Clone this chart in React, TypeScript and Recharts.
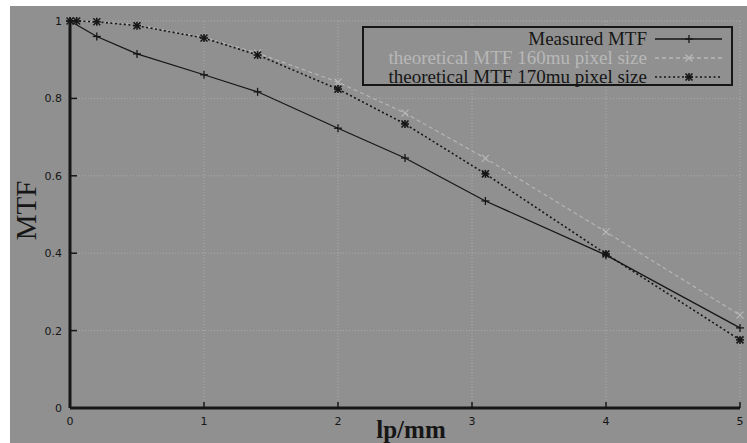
import { LineChart, Line, XAxis, YAxis, CartesianGrid, Legend, Label } from "recharts";

const xValues = [0, 0.05, 0.2, 0.5, 1, 1.4, 2, 2.5, 3.1, 4, 5];
const measured = [1, null, 0.96, 0.915, 0.861, 0.817, 0.723, 0.646, 0.535, 0.395, 0.207];
const theo160 = [1, 1, 0.999, 0.99, 0.958, 0.917, 0.842, 0.762, 0.645, 0.455, 0.24];
const theo170 = [1, 1, 0.998, 0.988, 0.956, 0.912, 0.824, 0.734, 0.605, 0.398, 0.176];

const xTicks = [0, 1, 2, 3, 4, 5];
const yTicks = [0, 0.2, 0.4, 0.6, 0.8, 1];

const BG = "#909090";
const INK = "#161616";
const PALE = "#b8b8b8";

const data = xValues.map((x, i) => ({
    x,
    measured: measured[i],
    theo160: theo160[i],
    theo170: theo170[i],
}));

// marker glyphs, gnuplot style
function Plus({ cx, cy, color, w = 1.3 }: any) {
    if (cx == null || cy == null) return null;
    return (
        <g stroke={color} strokeWidth={w}>
            <line x1={cx - 4} y1={cy} x2={cx + 4} y2={cy} />
            <line x1={cx} y1={cy - 4} x2={cx} y2={cy + 4} />
        </g>
    );
}

function Cross({ cx, cy, color, w = 1.2 }: any) {
    if (cx == null || cy == null) return null;
    return (
        <g stroke={color} strokeWidth={w}>
            <line x1={cx - 3.5} y1={cy - 3.5} x2={cx + 3.5} y2={cy + 3.5} />
            <line x1={cx - 3.5} y1={cy + 3.5} x2={cx + 3.5} y2={cy - 3.5} />
        </g>
    );
}

function Star(props: any) {
    return (
        <g>
            <Plus {...props} w={1.6} />
            <Cross {...props} w={1.6} />
        </g>
    );
}

const markers: Record<string, any> = { measured: Plus, theo160: Cross, theo170: Star };

function BottomTick({ x, y, payload }: any) {
    return (
        <g>
            <line x1={x} y1={y} x2={x} y2={y - 6} stroke={INK} strokeWidth={1.5} />
            <text x={x} y={y + 17} textAnchor="middle" fontSize={11} fill={INK} fontFamily="DejaVu Sans">
                {payload.value}
            </text>
        </g>
    );
}

function TopTick({ x, y }: any) {
    return <line x1={x} y1={y} x2={x} y2={y + 6} stroke={INK} strokeWidth={1.5} />;
}

function LeftTick({ x, y, payload }: any) {
    return (
        <g>
            <line x1={x} y1={y} x2={x + 7} y2={y} stroke={INK} strokeWidth={1.5} />
            <text x={x - 8} y={y + 4} textAnchor="end" fontSize={11} fill={INK} fontFamily="DejaVu Sans">
                {payload.value}
            </text>
        </g>
    );
}

function RightTick({ x, y }: any) {
    return <line x1={x} y1={y} x2={x - 7} y2={y} stroke={INK} strokeWidth={1.5} />;
}

function LegendBox({ payload }: any) {
    return (
        <div
            style={{
                boxSizing: "border-box",
                width: 371,
                height: 60,
                border: `2px solid ${INK}`,
                background: BG,
                paddingRight: 9,
                paddingTop: 1,
                fontFamily: "'Liberation Serif', serif",
                fontSize: 19,
            }}
        >
            {(payload || []).map((entry: any) => {
                const Marker = markers[entry.dataKey];
                const dash = entry.payload?.strokeDasharray;
                return (
                    <div
                        key={entry.dataKey}
                        style={{ display: "flex", justifyContent: "flex-end", alignItems: "center", height: 19 }}
                    >
                        <span style={{ color: entry.color, lineHeight: "19px", whiteSpace: "nowrap" }}>{entry.value}</span>
                        <svg width={67} height={19} style={{ marginLeft: 8 }}>
                            <line x1={0} y1={10} x2={67} y2={10} stroke={entry.color} strokeWidth={1.3} strokeDasharray={dash} />
                            <Marker cx={34} cy={10} color={entry.color} />
                        </svg>
                    </div>
                );
            })}
        </div>
    );
}

export default function App() {
    return (
        <div style={{ position: "absolute", left: 0, top: 0, width: 747, height: 443, background: "#fff" }}>
            <div style={{ position: "absolute", left: 10, top: 6, width: 737, height: 437, background: BG }}>
                <LineChart width={737} height={437} data={data} margin={{ top: 15, right: 7, bottom: 0, left: 0 }}>
                    <CartesianGrid stroke="#acacac" strokeDasharray="1 2" />
                    <XAxis
                        dataKey="x"
                        type="number"
                        domain={[0, 5]}
                        ticks={xTicks}
                        height={35}
                        tickSize={0}
                        tickMargin={0}
                        tickLine={false}
                        axisLine={{ stroke: INK, strokeWidth: 3 }}
                        tick={<BottomTick />}
                        interval={0}
                    >
                        <Label
                            content={({ viewBox }: any) => (
                                <text
                                    x={viewBox.x + viewBox.width / 2 + 6}
                                    y={viewBox.y + 30}
                                    textAnchor="middle"
                                    fontSize={25}
                                    fontWeight="bold"
                                    fill={INK}
                                    fontFamily="'Liberation Serif', serif"
                                >
                                    lp/mm
                                </text>
                            )}
                        />
                    </XAxis>
                    <XAxis
                        xAxisId="top"
                        orientation="top"
                        dataKey="x"
                        type="number"
                        domain={[0, 5]}
                        ticks={xTicks}
                        height={0}
                        tickSize={0}
                        tickMargin={0}
                        tickLine={false}
                        axisLine={{ stroke: INK, strokeWidth: 2 }}
                        tick={<TopTick />}
                        interval={0}
                    />
                    <YAxis
                        type="number"
                        domain={[0, 1]}
                        ticks={yTicks}
                        width={60}
                        tickSize={0}
                        tickMargin={0}
                        tickLine={false}
                        axisLine={{ stroke: INK, strokeWidth: 3 }}
                        tick={<LeftTick />}
                        interval={0}
                    >
                        <Label
                            content={({ viewBox }: any) => {
                                const cx = viewBox.x + 26;
                                const cy = viewBox.y + viewBox.height / 2 - 4;
                                return (
                                    <text
                                        x={cx}
                                        y={cy}
                                        transform={`rotate(-90 ${cx} ${cy})`}
                                        textAnchor="middle"
                                        fontSize={29}
                                        fill={INK}
                                        fontFamily="'Liberation Serif', serif"
                                    >
                                        MTF
                                    </text>
                                );
                            }}
                        />
                    </YAxis>
                    <YAxis
                        yAxisId="right"
                        orientation="right"
                        type="number"
                        domain={[0, 1]}
                        ticks={yTicks}
                        width={0}
                        tickSize={0}
                        tickMargin={0}
                        tickLine={false}
                        axisLine={{ stroke: INK, strokeWidth: 2 }}
                        tick={<RightTick />}
                        interval={0}
                    />
                    <Legend
                        layout="horizontal"
                        align="center"
                        verticalAlign="middle"
                        wrapperStyle={{ left: 352, top: 20, width: 371, height: 60 }}
                        content={<LegendBox />}
                    />
                    <Line
                        name="Measured MTF"
                        dataKey="measured"
                        type="linear"
                        stroke={INK}
                        strokeWidth={1.2}
                        connectNulls
                        dot={(p: any) => <Plus key={p.index} cx={p.cx} cy={p.cy} color={INK} />}
                        activeDot={false}
                        isAnimationActive={false}
                    />
                    <Line
                        name="theoretical MTF 160mu pixel size"
                        dataKey="theo160"
                        type="linear"
                        stroke={PALE}
                        strokeWidth={1.1}
                        strokeDasharray="4 3"
                        dot={(p: any) => <Cross key={p.index} cx={p.cx} cy={p.cy} color={PALE} />}
                        activeDot={false}
                        isAnimationActive={false}
                    />
                    <Line
                        name="theoretical MTF 170mu pixel size"
                        dataKey="theo170"
                        type="linear"
                        stroke={INK}
                        strokeWidth={1.6}
                        strokeDasharray="2 2.5"
                        dot={(p: any) => <Star key={p.index} cx={p.cx} cy={p.cy} color={INK} />}
                        activeDot={false}
                        isAnimationActive={false}
                    />
                </LineChart>
            </div>
        </div>
    );
}
